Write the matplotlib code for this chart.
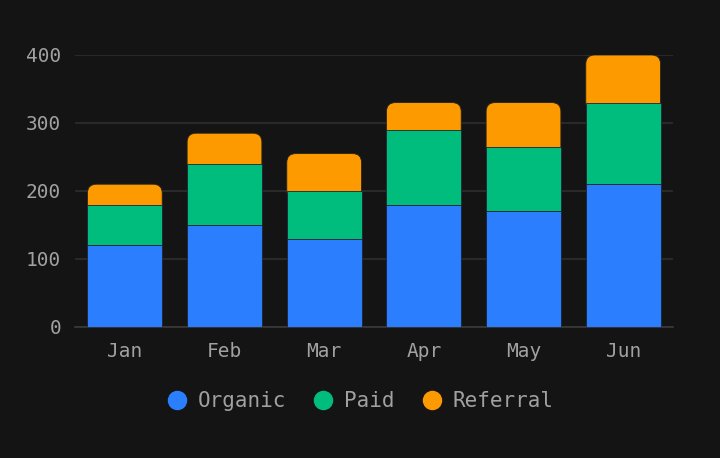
import matplotlib.pyplot as plt
from matplotlib.patches import FancyBboxPatch
from matplotlib.lines import Line2D
import numpy as np

months = ["Jan", "Feb", "Mar", "Apr", "May", "Jun"]
organic = [120, 150, 130, 180, 170, 210]
paid = [60, 90, 70, 110, 95, 120]
referral = [30, 45, 55, 40, 65, 70]

series_names = ["Organic", "Paid", "Referral"]
colors = ["#2b7fff", "#00bc7d", "#fd9a00"]
bg = "#141414"
text_col = "#a1a1a1"
grid_col = "#2e2e2e"

plt.rcParams["font.family"] = ["DejaVu Sans Mono"]

fig = plt.figure(figsize=(7.2, 4.58), dpi=100, facecolor=bg)
ax = fig.add_axes([75 / 720, 131 / 458, 598 / 720, 272 / 458])
ax.set_facecolor(bg)

x = np.arange(len(months))
width = 0.75
edge = dict(edgecolor="#1c2433", linewidth=0.6)

ax.bar(x, organic, width, color=colors[0], zorder=3, **edge)
ax.bar(x, paid, width, bottom=organic, color=colors[1], zorder=3, **edge)

# top segment with rounded upper corners (lower part hidden under Paid)
ylim = (0, 400)
r_px = 9
ax_w_px, ax_h_px = 598, 272
rx = r_px * 6 / ax_w_px
ry = r_px * (ylim[1] - ylim[0]) / ax_h_px
bottoms = np.array(organic) + np.array(paid)
for xi, b, h in zip(x, bottoms, referral):
    patch = FancyBboxPatch(
        (xi - width / 2, b - ry), width, h + ry,
        boxstyle=f"round,pad=0,rounding_size={rx}",
        mutation_aspect=ry / rx,
        facecolor=colors[2], edgecolor="#2a2418", linewidth=0.6, zorder=2,
    )
    ax.add_patch(patch)

ax.set_xlim(-0.5, 5.5)
ax.set_ylim(*ylim)
ax.set_yticks([0, 100, 200, 300, 400])
ax.set_xticks(x)
ax.set_xticklabels(months)
ax.grid(axis="y", color=grid_col, linewidth=1.2, zorder=0)
ax.tick_params(axis="both", length=0, colors=text_col, labelsize=14)
ax.tick_params(axis="y", pad=10)
ax.tick_params(axis="x", pad=11)
for s in ["top", "right", "left"]:
    ax.spines[s].set_visible(False)
ax.spines["bottom"].set_color("#3a3a3a")
ax.spines["bottom"].set_linewidth(1.2)

handles = [Line2D([], [], marker="o", linestyle="none", markersize=13,
                  markerfacecolor=c, markeredgecolor=c) for c in colors]
leg = fig.legend(handles, series_names, loc="center", bbox_to_anchor=(0.5, 57 / 458),
                 ncol=3, frameon=False, fontsize=15, handlelength=1.0,
                 handletextpad=0.5, columnspacing=1.3, labelcolor=text_col)

fig.savefig("out.png", dpi=100, facecolor=bg)
